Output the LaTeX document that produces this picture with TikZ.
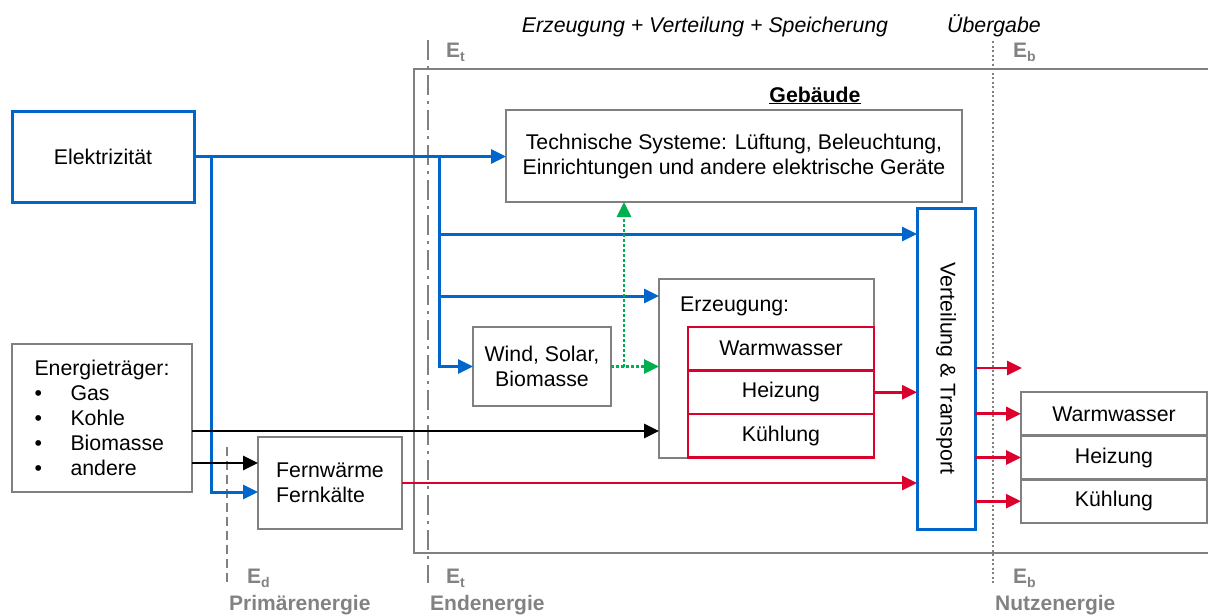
\documentclass[tikz,border=0pt]{standalone}
\usepackage{fontspec}
\setmainfont{Liberation Sans}
\usetikzlibrary{arrows.meta}
\definecolor{eblue}{RGB}{0,102,204}
\definecolor{ered}{RGB}{220,0,45}
\definecolor{egreen}{RGB}{0,176,80}
\definecolor{egray}{RGB}{128,128,128}
\definecolor{lgray}{RGB}{130,130,130}
\begin{document}
\begin{tikzpicture}[x=1pt,y=-1pt,
  txt/.style={font=\fontsize{21.3}{25}\selectfont},
  boxbase/.style={inner sep=0pt, outer sep=0pt, txt, align=center},
  graybox/.style={boxbase, draw=egray, line width=2.8pt},
  bluebox/.style={boxbase, draw=eblue, line width=3pt},
  redbox/.style={boxbase, draw=ered, line width=2.8pt},
  tip/.style={-{Triangle[length=15pt,width=14pt]}},
  blueflow/.style={tip, draw=eblue, line width=3pt},
  redflow/.style={tip, draw=ered, line width=2.8pt},
  blackflow/.style={tip, draw=black, line width=2.8pt},
  greenflow/.style={tip, draw=egreen, line width=2.8pt, dash pattern=on 2.5pt off 2.5pt},
  lbl/.style={font=\fontsize{21}{25}\selectfont\bfseries, text=lgray, inner sep=0pt, anchor=base west},
  headtxt/.style={font=\fontsize{21.3}{25}\selectfont\itshape, inner sep=0pt, anchor=base},
]
\useasboundingbox (0,0) rectangle (1208,616);
\clip (0,0) rectangle (1208,616);

% building envelope
\node[graybox, minimum width=800pt, minimum height=484pt] (geb) at (814,311) {};
\node[font=\fontsize{21.3}{25}\selectfont\bfseries, inner sep=0pt, anchor=base] (gebtxt) at (815,102) {\underline{Gebäude}};

% system boundaries
\draw[egray, line width=2.2pt, dash pattern=on 20pt off 6pt on 3pt off 6pt] (428,40) -- (428,583);
\draw[egray, line width=2.2pt, dash pattern=on 2pt off 2.5pt] (993,41) -- (993,583);
\draw[egray, line width=2.5pt, dash pattern=on 9pt off 5pt] (227,447) -- (227,583);

% headings and boundary labels
\node[headtxt] (hd1) at (705,32) {Erzeugung + Verteilung + Speicherung};
\node[headtxt] (hd2) at (994,32) {Übergabe};
\node[lbl] (et1) at (446,57) {E\raisebox{-0.45ex}{\fontsize{14}{14}\selectfont t}};
\node[lbl] (eb1) at (1013,57) {E\raisebox{-0.45ex}{\fontsize{14}{14}\selectfont b}};
\node[lbl] (ed2) at (247,583) {E\raisebox{-0.45ex}{\fontsize{14}{14}\selectfont d}};
\node[lbl] (et2) at (446,583) {E\raisebox{-0.45ex}{\fontsize{14}{14}\selectfont t}};
\node[lbl] (eb2) at (1013,583) {E\raisebox{-0.45ex}{\fontsize{14}{14}\selectfont b}};
\node[lbl] (pe) at (229,610) {Primärenergie};
\node[lbl] (ee) at (430,610) {Endenergie};
\node[lbl] (ne) at (995,610) {Nutzenergie};

% supply side
\node[bluebox, minimum width=182pt, minimum height=91pt] (elek) at (103,156.5) {Elektrizität};
\node[graybox, minimum width=180pt, minimum height=148pt, align=left] (eng) at (102,418)
  {Energieträger:\\
   \makebox[36pt][l]{•}Gas\\
   \makebox[36pt][l]{•}Kohle\\
   \makebox[36pt][l]{•}Biomasse\\
   \makebox[36pt][l]{•}andere};
\node[graybox, minimum width=144pt, minimum height=92pt, align=left] (fw) at (330,483) {Fernwärme\\Fernkälte};

% building systems
\node[graybox, minimum width=456pt, minimum height=92pt] (ts) at (734,156)
  {Technische Systeme: Lüftung, Beleuchtung,\\Einrichtungen und andere elektrische Geräte};
\node[graybox, minimum width=138pt, minimum height=79pt] (wind) at (542,366.5) {Wind, Solar,\\Biomasse};
\node[graybox, minimum width=215pt, minimum height=179pt] (erz) at (766.5,368.5) {};
\node[txt, inner sep=0pt, anchor=base west] (erztxt) at (680,311) {Erzeugung:};
\node[redbox, minimum width=186pt, minimum height=43.5pt] (eww) at (781,348.75) {Warmwasser};
\node[redbox, minimum width=186pt, minimum height=43.5pt] (ehz) at (781,392.25) {Heizung};
\node[redbox, minimum width=186pt, minimum height=43.5pt] (ekl) at (781,435.75) {Kühlung};
\node[bluebox, minimum width=58pt, minimum height=321pt] (vt) at (946,368.5) {};
\node[txt, rotate=-90, inner sep=0pt] (vttxt) at (vt.center) {Verteilung \& Transport};

% useful energy
\node[graybox, minimum width=186pt, minimum height=43.67pt] (rww) at (1114,413.8) {Warmwasser};
\node[graybox, minimum width=186pt, minimum height=43.67pt] (rhz) at (1114,457.5) {Heizung};
\node[graybox, minimum width=186pt, minimum height=43.67pt] (rkl) at (1114,501.2) {Kühlung};

% electricity paths
\coordinate (jA) at (211,157);
\coordinate (jB) at (439,157);
\draw[blueflow] (elek.east) -- (elek.east -| ts.west);
\draw[blueflow] (jA) |- (fw.west |- 0,492);
\draw[blueflow] (jB) |- (wind.west);
\draw[blueflow] (jB |- 0,234) -- (vt.west |- 0,234);
\draw[blueflow] (jB |- 0,296) -- (erz.west |- 0,296);

% on-site renewables
\coordinate (gj) at (624,366.5);
\draw[greenflow] (wind.east) -- (wind.east -| erz.west);
\draw[greenflow] (gj) -- (gj |- ts.south);

% fuels
\draw[blackflow] (eng.east |- 0,431) -- (erz.west |- 0,431);
\draw[blackflow] (eng.east |- 0,463) -- (fw.west |- 0,463);

% heat paths
\draw[redflow] (fw.east |- 0,483) -- (vt.west |- 0,483);
\draw[redflow] (ehz.east) -- (ehz.east -| vt.west);
\coordinate (out0) at (1022,368);
\draw[redflow] (vt.east |- out0) -- (out0);
\draw[redflow] (vt.east |- rww.west) -- (rww.west);
\draw[redflow] (vt.east |- rhz.west) -- (rhz.west);
\draw[redflow] (vt.east |- rkl.west) -- (rkl.west);
\end{tikzpicture}
\end{document}
